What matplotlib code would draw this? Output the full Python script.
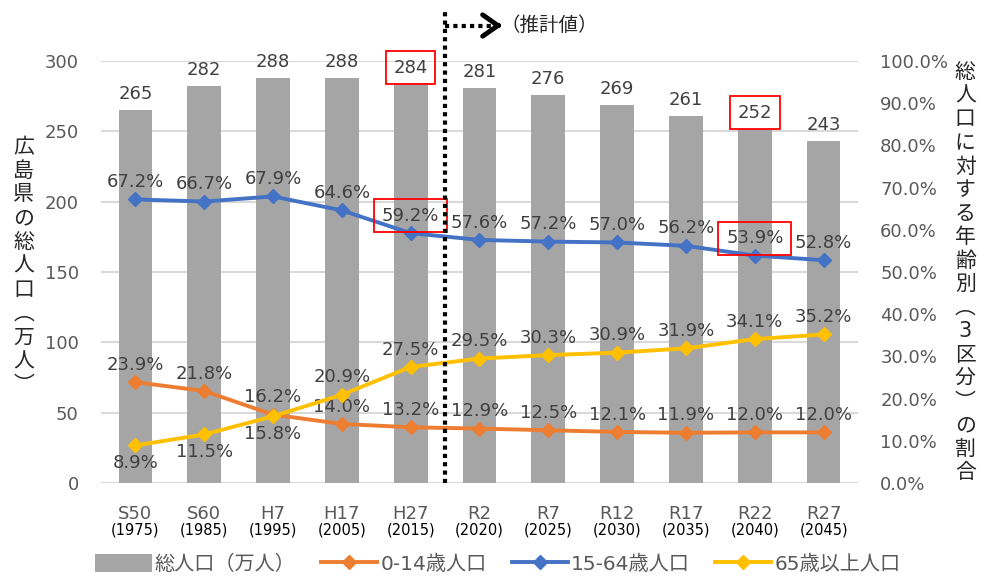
import matplotlib
matplotlib.use('Agg')
import matplotlib.pyplot as plt
from matplotlib.ticker import FuncFormatter

plt.rcParams['font.family'] = ['DejaVu Sans', 'Noto Sans CJK JP']

periods = ['S50', 'S60', 'H7', 'H17', 'H27', 'R2', 'R7', 'R12', 'R17', 'R22', 'R27']
years = ['(1975)', '(1985)', '(1995)', '(2005)', '(2015)', '(2020)',
         '(2025)', '(2030)', '(2035)', '(2040)', '(2045)']
total_pop = [265, 282, 288, 288, 284, 281, 276, 269, 261, 252, 243]
pct_0_14 = [23.9, 21.8, 16.2, 14.0, 13.2, 12.9, 12.5, 12.1, 11.9, 12.0, 12.0]
pct_15_64 = [67.2, 66.7, 67.9, 64.6, 59.2, 57.6, 57.2, 57.0, 56.2, 53.9, 52.8]
pct_65 = [8.9, 11.5, 15.8, 20.9, 27.5, 29.5, 30.3, 30.9, 31.9, 34.1, 35.2]
boxed = [4, 9]  # highlighted with red boxes

GRAY_TXT = '#595959'
BAR = '#A5A5A5'
ORANGE = '#ED7D31'
BLUE = '#4472C4'
YELLOW = '#FFC000'

fig = plt.figure(figsize=(9.88, 5.77), dpi=100)
ax = fig.add_axes([0.1022, 0.1629, 0.7662, 0.7314])
ax2 = ax.twinx()

x = list(range(len(periods)))
ax.bar(x, total_pop, width=0.49, color=BAR, label='総人口（万人）', zorder=2)
ax.set_xlim(-0.5, len(periods) - 0.5)
ax.set_ylim(0, 300)
ax.set_yticks(range(0, 301, 50))
ax.grid(axis='y', color='#D9D9D9', lw=1.5, zorder=0)
ax.set_axisbelow(True)

red_box = dict(boxstyle='square,pad=0.42', fc='none', ec='red', lw=1.3)

for i, v in enumerate(total_pop):
    ax.annotate(str(v), (i, v), xytext=(0, 5), textcoords='offset points',
                ha='center', va='bottom', fontsize=13, color='#404040',
                bbox=red_box if i in boxed else None)

ax2.set_ylim(0, 100)
ax2.set_yticks(range(0, 101, 10))
ax2.yaxis.set_major_formatter(FuncFormatter(lambda v, p: f'{v:.1f}%'))

series = [
    (pct_0_14, ORANGE, '0-14歳人口', [1] * 11),
    (pct_15_64, BLUE, '15-64歳人口', [1] * 11),
    (pct_65, YELLOW, '65歳以上人口', [-1, -1, -1] + [1] * 8),
]
for vals, col, name, sides in series:
    ax2.plot(x, vals, color=col, lw=2.8, marker='D', ms=7, label=name, zorder=3)
    for i, (v, s) in enumerate(zip(vals, sides)):
        bb = red_box if (col == BLUE and i in boxed) else None
        ax2.annotate(f'{v:.1f}%', (i, v), xytext=(0, 6 * s), textcoords='offset points',
                     ha='center', va='bottom' if s > 0 else 'top',
                     fontsize=13, color='#404040', bbox=bb)

for a in (ax, ax2):
    for sp in a.spines.values():
        sp.set_visible(False)
    a.tick_params(length=0, labelsize=13, labelcolor=GRAY_TXT)
ax.tick_params(axis='y', pad=16)
ax2.tick_params(axis='y', pad=16)
for lab in ax2.get_yticklabels():
    lab.set_ha('left')

ax.set_xticks(x)
ax.set_xticklabels([''] * len(x))
for i in x:
    ax.annotate(periods[i], (i, 0), xycoords=('data', 'axes fraction'),
                xytext=(0, -22), textcoords='offset points', ha='center', va='center',
                fontsize=13, color=GRAY_TXT)
    ax.annotate(years[i], (i, 0), xycoords=('data', 'axes fraction'),
                xytext=(0, -34), textcoords='offset points', ha='center', va='center',
                fontsize=10.5, color='black')

# boundary between actual and estimated values
ax2.plot([4.5, 4.5], [0, 112], color='black', lw=3, ls=(0, (1, 1)),
         clip_on=False, zorder=5)
ax2.plot([4.5, 5.25], [108.4, 108.4], color='black', lw=3, ls=(0, (1, 1)),
         clip_on=False, zorder=5)
ax2.annotate('', xy=(5.37, 108.4), xytext=(5.2, 108.4), annotation_clip=False,
             arrowprops=dict(arrowstyle='->,head_length=0.5,head_width=0.35',
                             lw=3.5, color='black', mutation_scale=22))
ax2.text(5.3, 108.4, '（推計値）', ha='left', va='center', fontsize=14, color='#262626')

fig.text(0.024, 0.539, '\n'.join('広島県の総人口︵万人︶'), ha='center', va='center',
         fontsize=15, linespacing=1.24, color='#262626')
fig.text(0.977, 0.528, '\n'.join('総人口に対する年齢別︵3区分︶の割合'), ha='center',
         va='center', fontsize=15, linespacing=1.22, color='#262626')

h1, l1 = ax.get_legend_handles_labels()
h2, l2 = ax2.get_legend_handles_labels()
fig.legend(h1 + h2, l1 + l2, loc='center', bbox_to_anchor=(0.504, 0.022), ncol=4,
           frameon=False, fontsize=14.5, handlelength=2.8, handleheight=1.0,
           columnspacing=1.25, handletextpad=0.15, labelcolor=GRAY_TXT)

fig.savefig('out.png', dpi=100)
